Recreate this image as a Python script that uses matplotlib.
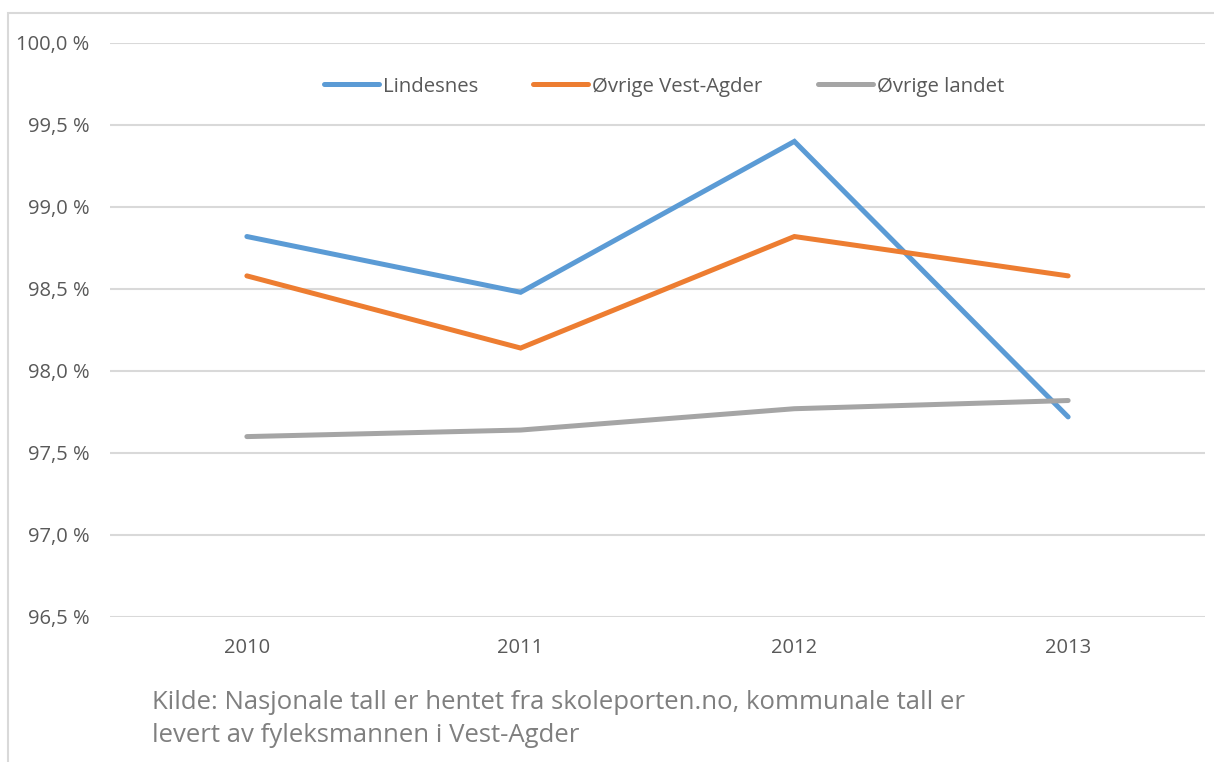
import matplotlib

matplotlib.use("Agg")
import matplotlib.pyplot as plt
from matplotlib.patches import Rectangle
from matplotlib.ticker import FuncFormatter, MultipleLocator

years = ["2010", "2011", "2012", "2013"]
lindesnes = [98.82, 98.48, 99.40, 97.72]
vest_agder = [98.58, 98.14, 98.82, 98.58]
landet = [97.60, 97.64, 97.77, 97.82]

series = [
    ("Lindesnes", lindesnes, "#5b9bd5"),
    ("Øvrige Vest-Agder", vest_agder, "#ed7d31"),
    ("Øvrige landet", landet, "#a5a5a5"),
]

source = "Kilde: Nasjonale tall er hentet fra skoleporten.no, kommunale tall er\nlevert av fyleksmannen i Vest-Agder"

plt.rcParams["font.family"] = ["Open Sans", "DejaVu Sans"]

W, H = 1214, 762
fig = plt.figure(figsize=(W / 100, H / 100), dpi=100)
ax = fig.add_axes([110 / W, 1 - 617 / H, (1205 - 110) / W, (617 - 43) / H])

# chart frame (only left and top edges fall inside the picture)
fig.patches.append(
    Rectangle((8 / W, -0.1), 1.2, 1 - 13 / H + 0.1, transform=fig.transFigure,
              fill=False, edgecolor="#d9d9d9", linewidth=1.5, zorder=0)
)

x = range(len(years))
for label, vals, color in series:
    ax.plot(x, vals, color=color, linewidth=3.6, solid_capstyle="round",
            solid_joinstyle="miter", label=label)

ax.set_xlim(-0.5, len(years) - 0.5)
ax.set_ylim(96.5, 100.0)
ax.set_xticks(list(x))
ax.set_xticklabels(years)
ax.yaxis.set_major_locator(MultipleLocator(0.5))
ax.yaxis.set_major_formatter(FuncFormatter(lambda v, _: f"{v:.1f} %".replace(".", ",")))
ax.grid(axis="y", color="#d9d9d9", linewidth=1.5)
ax.set_axisbelow(True)
for s in ax.spines.values():
    s.set_visible(False)
ax.tick_params(length=0, labelsize=14.5, colors="#595959")
ax.tick_params(axis="y", pad=15)
ax.tick_params(axis="x", pad=15)

ax.legend(loc="center", bbox_to_anchor=(0.506, 0.924), ncol=3, frameon=False,
          fontsize=14.7, handlelength=2.7, handletextpad=0.2, columnspacing=2.7,
          labelcolor="#595959")

fig.text(152 / W, 1 - 719 / H, source, fontsize=18.5, color="#7f7f7f",
         va="center", ha="left", linespacing=1.45)

fig.savefig("out.png", dpi=100)
